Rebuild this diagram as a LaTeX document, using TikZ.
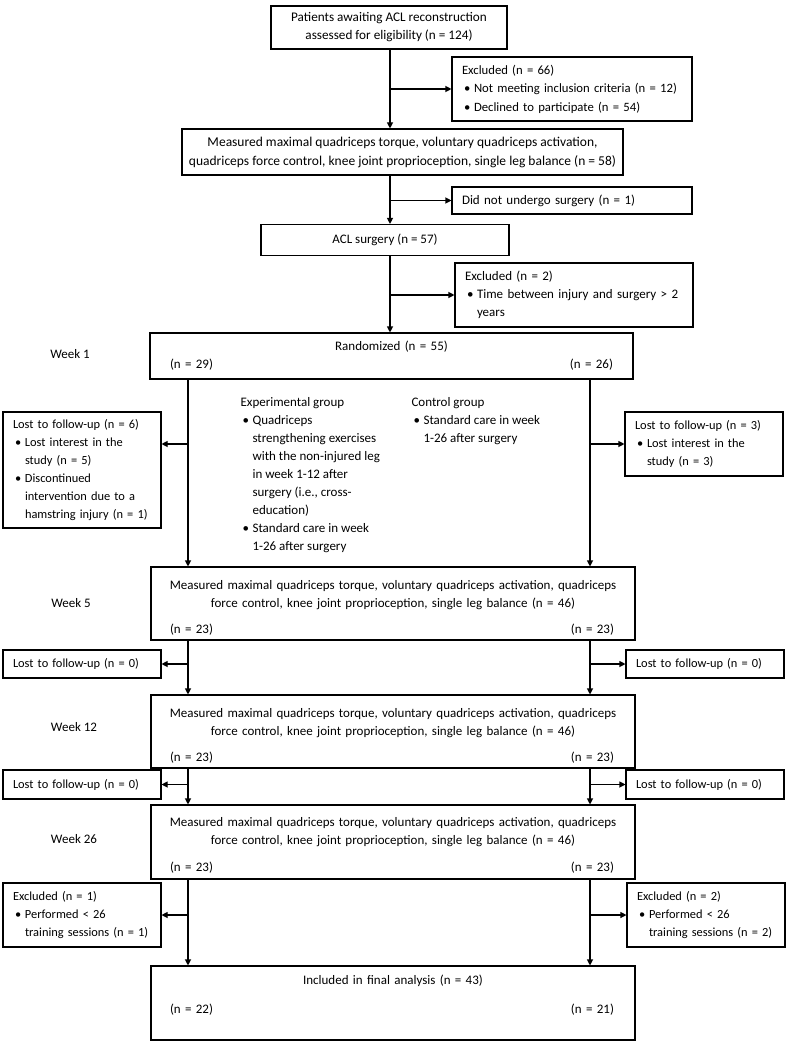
\documentclass[tikz,border=0pt]{standalone}
\usepackage{fontspec}
\setmainfont{Carlito}
\usepackage{tikz}
\usetikzlibrary{arrows.meta}
\newcommand{\bul}{\makebox[12pt][l]{\hspace{2pt}\textbullet}}
\newcommand{\ind}{\hspace*{12pt}}
\newcommand{\nline}[2]{\hspace*{11pt}#1\hfill#2\hspace*{13pt}\mbox{}}

\begin{document}
\begin{tikzpicture}[x=1pt,y=-1pt,line width=1.1pt,
  every node/.style={font=\fontsize{13pt}{18pt}\selectfont},
  box/.style={rectangle,draw,inner sep=0pt,align=center},
  lbox/.style={rectangle,draw,inner ysep=0pt,inner xsep=10pt,align=left},
  sbox/.style={lbox,text width=138pt,font=\fontsize{12.4pt}{18pt}\selectfont},
  wbox/.style={box,inner xsep=8pt,text width=468pt,minimum height=73pt,
    font=\fontsize{13pt}{18pt}\selectfont},
  arr/.style={-{Triangle[length=6pt,width=6pt]}}]
%\draw[help lines] (0,0) grid[step=50] (787,1043);
\useasboundingbox (0,0) rectangle (787,1043);
\coordinate (S) at (390,0);
\coordinate (L) at (188,0);
\coordinate (R) at (590,0);
\path
(389,27.5) node(elig) [box,minimum width=236pt,minimum height=43pt,font=\fontsize{13.2pt}{18pt}\selectfont] {Patients awaiting ACL reconstruction\\assessed for eligibility (n = 124)}
(572,89) node(excl1) [lbox,text width=220pt,minimum height=64pt,font=\fontsize{12.7pt}{18.5pt}\selectfont] {Excluded (n = 66)\\\bul Not meeting inclusion criteria (n = 12)\\\bul Declined to participate (n = 54)}
(402.5,152) node(meas0) [box,minimum width=441pt,minimum height=46pt,font=\fontsize{13.5pt}{19pt}\selectfont] {Measured maximal quadriceps torque, voluntary quadriceps activation,\\quadriceps force control, knee joint proprioception, single leg balance (n = 58)}
(572,200.5) node(nosurg) [lbox,text width=220pt,minimum height=27pt] {Did not undergo surgery (n = 1)}
(385,240) node(surg) [box,minimum width=248pt,minimum height=31pt] {ACL surgery (n = 57)}
(574,295) node(excl2) [lbox,text width=218pt,minimum height=64pt] {Excluded (n = 2)\\\bul Time between injury and surgery > 2\\\ind years}
(391.5,356) node(rand) [box,inner xsep=20pt,text width=443pt,minimum height=46pt] {Randomized (n = 55)\\(n = 29)\hfill(n = 26)}
(70,354) node(wk1) {Week 1}
(240,397) node(exptxt) [anchor=north west,inner sep=0pt,align=left] {Experimental group\\\bul Quadriceps\\\ind strengthening exercises\\\ind with the non-injured leg\\\ind in week 1-12 after\\\ind surgery (i.e., cross-\\\ind education)\\\bul Standard care in week\\\ind 1-26 after surgery}
(411,397) node(ctrltxt) [anchor=north west,inner sep=0pt,align=left] {Control group\\\bul Standard care in week\\\ind 1-26 after surgery}
(82,470) node(lost6) [sbox,minimum height=116pt] {\mbox{Lost to follow-up (n = 6)}\\\bul Lost interest in the\\\ind study (n = 5)\\\bul Discontinued\\\ind intervention due to a\\\ind\mbox{hamstring injury (n = 1)}}
(704,444) node(lost3) [sbox,minimum height=64pt] {\mbox{Lost to follow-up (n = 3)}\\\bul Lost interest in the\\\ind study (n = 3)}
(393,603.5) node(w5) [wbox] {\rule{0pt}{18pt}Measured maximal quadriceps torque, voluntary quadriceps activation, quadriceps\\force control, knee joint proprioception, single leg balance (n = 46)\\[8pt]\nline{(n = 23)}{(n = 23)}}
(71,603) node(wk5) {Week 5}
(82,664) node(lostA) [sbox,minimum height=28pt] {\mbox{Lost to follow-up (n = 0)}}
(705,664) node(lostB) [sbox,minimum height=28pt] {\mbox{Lost to follow-up (n = 0)}}
(393,731.5) node(w12) [wbox] {\rule{0pt}{18pt}Measured maximal quadriceps torque, voluntary quadriceps activation, quadriceps\\force control, knee joint proprioception, single leg balance (n = 46)\\[8pt]\nline{(n = 23)}{(n = 23)}}
(74,727) node(wk12) {Week 12}
(82,784.5) node(lostC) [sbox,minimum height=29pt] {\mbox{Lost to follow-up (n = 0)}}
(705,784.5) node(lostD) [sbox,minimum height=29pt] {\mbox{Lost to follow-up (n = 0)}}
(393,842) node(w26) [wbox,minimum height=74pt] {\rule{0pt}{16pt}Measured maximal quadriceps torque, voluntary quadriceps activation, quadriceps\\force control, knee joint proprioception, single leg balance (n = 46)\\[9pt]\nline{(n = 23)}{(n = 23)}}
(74,839) node(wk26) {Week 26}
(82,915) node(exclL) [sbox,minimum height=64pt] {Excluded (n = 1)\\\bul Performed < 26\\\ind\mbox{training sessions (n = 1)}}
(706,915) node(exclR) [sbox,minimum height=64pt] {Excluded (n = 2)\\\bul Performed < 26\\\ind\mbox{training sessions (n = 2)}}
(393,1003) node(final) [wbox,minimum height=74pt] {Included in final analysis (n = 43)\\[11pt]\nline{(n = 22)}{(n = 21)}\\\mbox{}};
\draw[arr] (elig.south -| S) -- (meas0.north -| S);
\draw[arr] (excl1.west -| S) -- (excl1.west);
\draw[arr] (meas0.south -| S) -- (surg.north -| S);
\draw[arr] (nosurg.west -| S) -- (nosurg.west);
\draw[arr] (surg.south -| S) -- (rand.north -| S);
\draw[arr] (excl2.west -| S) -- (excl2.west);
\draw[arr] (rand.south -| L) -- (w5.north -| L);
\draw[arr] (rand.south -| R) -- (w5.north -| R);
\draw[arr] (lost3.west -| L) -- (lost6.east |- lost3.west);
\draw[arr] (lost3.west -| R) -- (lost3.west);
\draw[arr] (w5.south -| L) -- (w12.north -| L);
\draw[arr] (w5.south -| R) -- (w12.north -| R);
\draw[arr] (lostA.east -| L) -- (lostA.east);
\draw[arr] (lostB.west -| R) -- (lostB.west);
\draw[arr] (w12.south -| L) -- (w26.north -| L);
\draw[arr] (w12.south -| R) -- (w26.north -| R);
\draw[arr] (lostC.east -| L) -- (lostC.east);
\draw[arr] (lostD.west -| R) -- (lostD.west);
\draw[arr] (w26.south -| L) -- (final.north -| L);
\draw[arr] (w26.south -| R) -- (final.north -| R);
\draw[arr] (exclL.east -| L) -- (exclL.east);
\draw[arr] (exclR.west -| R) -- (exclR.west);
\end{tikzpicture}
\end{document}
